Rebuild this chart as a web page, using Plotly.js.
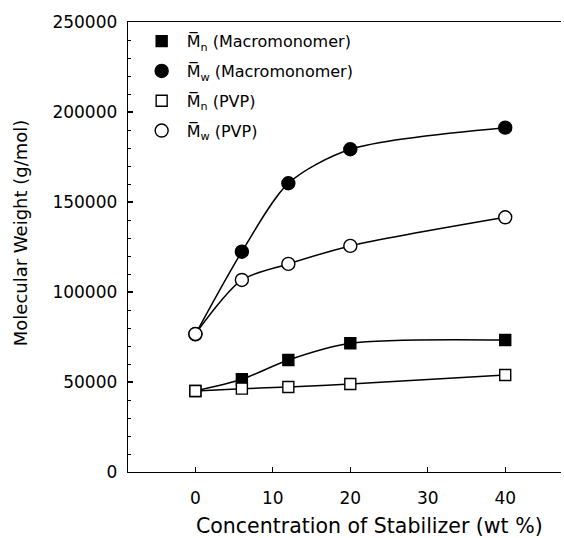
<!DOCTYPE html>
<html>
<head>
<meta charset="utf-8">
<script src="https://cdn.plot.ly/plotly-3.0.1.min.js"></script>
<style>html,body{margin:0;padding:0;background:#fff;}#chart{width:564px;height:538px;}</style>
</head>
<body>
<div id="chart"></div>
<script>
const conc = [0, 6, 12, 20, 40];
const mnMacro = [45000, 51500, 62200, 71500, 73300];
const mwMacro = [76500, 122400, 160400, 179300, 191300];
const mnPVP = [45000, 46300, 47200, 48900, 53900];
const mwPVP = [76700, 106700, 115600, 125600, 141500];
const seriesNames = [
  "M\u0305<sub>n</sub> (Macromonomer)",
  "M\u0305<sub>w</sub> (Macromonomer)",
  "M\u0305<sub>n</sub> (PVP)",
  "M\u0305<sub>w</sub> (PVP)"
];
const xTicks = [0, 10, 20, 30, 40];
const yTicks = [0, 50000, 100000, 150000, 200000, 250000];
const xTitle = "Concentration of Stabilizer (wt %)";
const yTitle = "Molecular Weight (g/mol)";

const series = [
  {y: mnMacro, symbol: "square", fill: "#000", size: 11},
  {y: mwMacro, symbol: "circle", fill: "#000", size: 13},
  {y: mnPVP, symbol: "square", fill: "#fff", size: 11},
  {y: mwPVP, symbol: "circle", fill: "#fff", size: 13}
];

const traces = [];
series.forEach((s) => {
  traces.push({
    x: conc, y: s.y, mode: "lines", type: "scatter",
    line: {shape: "spline", smoothing: 0.8, color: "#000", width: 1.5},
    showlegend: false, hoverinfo: "skip"
  });
});
series.forEach((s, i) => {
  traces.push({
    x: conc, y: s.y, mode: "markers", type: "scatter", name: seriesNames[i],
    legendgroup: "g" + i,
    marker: {symbol: s.symbol, size: s.size, color: s.fill, line: {color: "#000", width: 1.4}}
  });
});

const layout = {
  width: 564, height: 538,
  margin: {l: 128, r: 3, t: 22, b: 66},
  paper_bgcolor: "#fff", plot_bgcolor: "#fff",
  font: {family: "DejaVu Sans, sans-serif", color: "#000", size: 16},
  showlegend: true,
  legend: {
    x: 0.02, y: 0.995, xanchor: "left", yanchor: "top",
    bgcolor: "rgba(0,0,0,0)", borderwidth: 0,
    font: {size: 16, color: "#000"}, itemwidth: 40,
    tracegroupgap: 6
  },
  xaxis: {
    range: [-8.7, 47.2], tickvals: xTicks, ticktext: xTicks.map(String),
    ticks: "inside", ticklen: 5, tickwidth: 1.2, tickcolor: "#000",
    showline: true, linecolor: "#000", linewidth: 1.3, mirror: true,
    showgrid: false, zeroline: false, ticklabelstandoff: 10,
    tickfont: {size: 17}
  },
  yaxis: {
    range: [0, 250000], tickvals: yTicks, ticktext: yTicks.map(String),
    ticks: "inside", ticklen: 5, tickwidth: 1.2, tickcolor: "#000",
    minor: {dtick: 10000, tick0: 0, ticks: "inside", ticklen: 3, tickcolor: "#000", tickwidth: 1},
    showline: true, linecolor: "#000", linewidth: 1.3,
    showgrid: false, zeroline: false, ticklabelstandoff: 6,
    tickfont: {size: 17}
  },
  annotations: [
    {text: xTitle, xref: "paper", yref: "paper", x: 0.558, y: -0.121,
     xanchor: "center", yanchor: "middle", showarrow: false, font: {size: 20.5, color: "#000"}},
    {text: yTitle, xref: "paper", yref: "paper", x: -0.249, y: 0.531,
     xanchor: "center", yanchor: "middle", textangle: -90, showarrow: false, font: {size: 18, color: "#000"}}
  ]
};

Plotly.newPlot("chart", traces, layout, {staticPlot: true, displayModeBar: false});
</script>
</body>
</html>
